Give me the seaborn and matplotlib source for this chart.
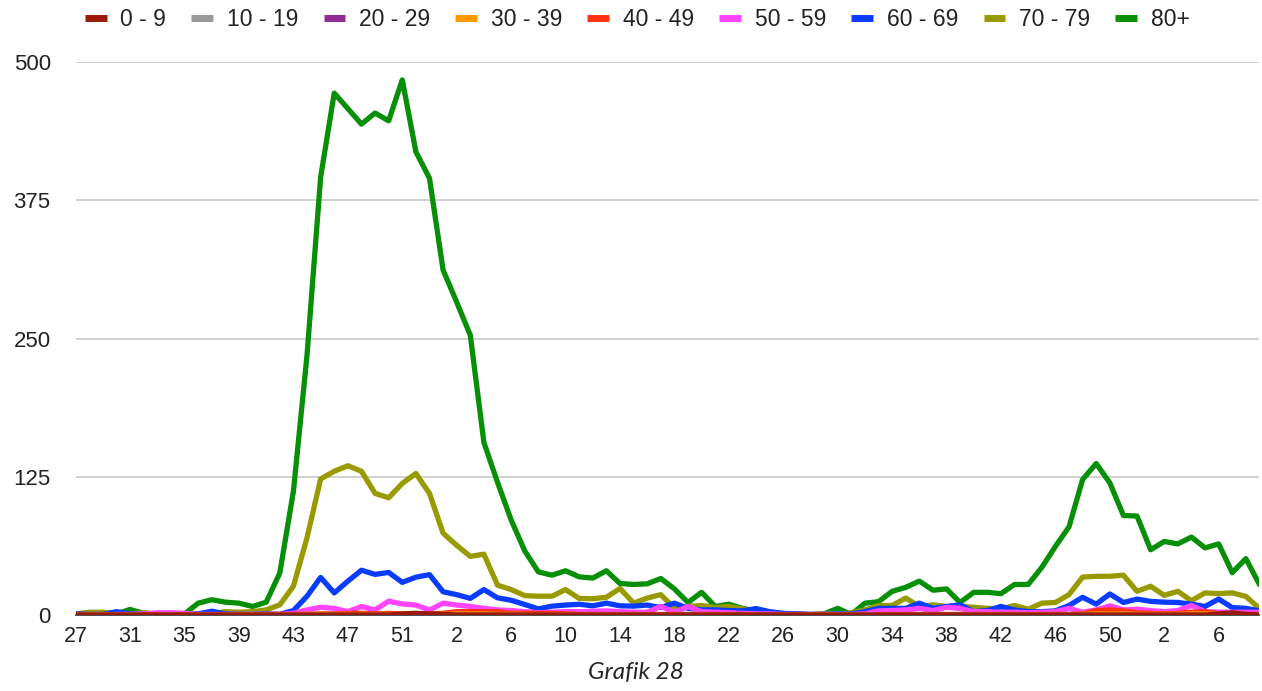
import matplotlib
matplotlib.use("Agg")
import matplotlib.pyplot as plt
import seaborn as sns
import pandas as pd

# weeks: 2020 wk27-53, 2021 wk1-52, 2022 wk1-9
weeks = list(range(27, 54)) + list(range(1, 53)) + list(range(1, 10))

groups = ["0 - 9", "10 - 19", "20 - 29", "30 - 39", "40 - 49",
          "50 - 59", "60 - 69", "70 - 79", "80+"]
colors = ["#9a1b0b", "#999999", "#932a93", "#ff9900", "#ff3311",
          "#ff44ff", "#0a3cff", "#999900", "#078f07"]

v80 = [0, 0.5, 1, 1, 5, 1.5, 1, 0.5, 1, 10.7, 13.8, 11.6, 10.7, 7.7, 11.6, 38, 112,
       235, 396, 472, 458, 444, 454, 447, 484, 419, 395,
       312, 283, 253, 156, 120, 86, 58, 39, 36, 40, 34.5, 33.4, 40, 28.5, 27.6, 28.2,
       33, 23.6, 11.3, 20.5, 7.7, 9.8, 6, 3.7, 2, 1, 0.5, 0.3, 1, 6, 0.5, 10.7, 12,
       21.4, 25, 30.6, 22.4, 23.6, 11.3, 20.5, 20.5, 19.3, 27.6, 27.6, 43, 62, 79.7,
       122.5, 137, 119.5, 90, 89.5,
       59, 66.5, 64.3, 70.5, 60.7, 64.3, 38.3, 51, 27.6]
v70 = [1, 2.5, 2.5, 1, 1, 2, 0.5, 0.5, 0.5, 1, 1, 3, 2.5, 3, 4.6, 9.2, 26, 70, 123,
       130, 135, 130, 110, 106, 119, 128, 110,
       74, 63, 53, 55, 27, 23, 17.5, 17, 17, 23, 15, 14.7, 16, 24, 10.7, 15.3, 18.4,
       6, 7.7, 8.6, 6.7, 7.7, 5.5, 3, 1.5, 1, 1, 0.5, 1, 1, 2, 4.6, 8.6, 8.6, 15.3,
       7.7, 9.2, 7.7, 7.7, 7, 6, 5.5, 8.6, 5.2, 10.7, 11.3, 18.4, 34.3, 35, 35, 36,
       21.4,
       26, 17.8, 21.4, 12.9, 20, 19.3, 20, 16.8, 6]
v60 = [1, 0.5, 0.5, 3, 1, 1, 1, 0.5, 0.5, 1, 3.4, 1, 0.5, 0.5, 1, 0.6, 4, 17, 34,
       20, 30.6, 40.5, 36.7, 38.5, 29.5, 34.2, 36.5,
       21, 18.4, 15, 23, 15.5, 13.3, 9.5, 5.5, 8, 9, 9.7, 8.3, 10.7, 8.3, 8, 9, 6.7,
       10.7, 6, 4.6, 4.6, 4, 3.7, 5.8, 3, 1.5, 1, 0.5, 0.5, 1, 1, 3, 6, 6, 6, 10.7,
       6, 7.7, 9.2, 3, 4, 7.7, 4.6, 3, 3, 3.7, 8.6, 16, 9.8, 19, 11.3, 14.4,
       12.3, 11.6, 11.3, 9.8, 7.7, 14.4, 6.7, 6, 3.7]
v50 = [0, 0, 0, 0.5, 0.5, 1, 2, 2, 1.5, 0.5, 0.5, 0.5, 0.5, 0.5, 0.5, 0.5, 1.5,
       4.6, 7, 6, 3, 7.7, 4.6, 12.5, 10, 9, 4.5,
       10.7, 9, 7.7, 6, 4.6, 4, 3, 2, 2.5, 3, 3, 3.4, 3.7, 3, 2.5, 2.5, 7.7, 2.5,
       7.7, 3, 2.5, 2, 1.5, 1, 1, 0.5, 0.5, 0.5, 0.5, 0.5, 0.5, 1, 3.7, 4, 4.6, 6,
       4, 7, 6, 3, 3, 2.5, 2.5, 2, 2.5, 3, 6, 2.5, 4.6, 8.3, 4.6, 5.2,
       4, 3, 4, 8.6, 3, 2.5, 2.5, 2.5, 2.5]
v40 = [0, 0, 0, 0, 0, 0, 0, 0, 0, 0, 0, 0, 0, 0, 0.5, 0.5, 0.5, 0.5, 1, 1, 1.5,
       1.5, 1, 1.5, 1, 1, 1,
       1.5, 3, 3, 3, 3, 1.5, 1.5, 1.5, 1.5, 1, 0.5, 0.5, 0.5, 0.5, 0.5, 0.5, 0.5,
       0.5, 0.5, 0.5, 0.5, 0.5, 0.5, 0, 0, 0, 0, 0, 0, 0, 0, 0, 0.5, 0.5, 0.5, 0.5,
       0.5, 0.5, 0.5, 0.5, 0.5, 0.5, 0.5, 0.5, 0.5, 0.5, 0.5, 1, 4, 4.6, 3.7, 2,
       1.5, 1, 1.5, 2.5, 3, 1, 0.5, 0.5, 0.5]
v30 = [0, 0, 0, 0, 0, 0, 0, 0, 0, 0, 0, 0, 0, 0, 0, 0, 0, 0.5, 0.5, 0.5, 0.5, 0.5,
       0.5, 0.5, 0.5, 0.5, 0.5,
       0.5, 1, 1, 1, 0.5, 0.5, 0.5, 0, 0, 0, 0, 0, 0, 0, 0, 0, 0, 0, 0, 0, 0, 0, 0,
       0, 0, 0, 0, 0, 0, 0, 0, 0, 0, 0, 0, 0, 0, 0, 0, 0, 0, 0, 0, 0, 0, 0, 0, 0.5,
       1, 1, 1, 0.5, 0.5, 0.5, 0.5, 1, 1, 0.5, 0, 0, 0]
v20 = [0] * 88
v10 = [0] * 88
v0 = [0, 0, 0, 0, 0, 0, 0, 0, 0, 0, 0, 0, 0, 0, 0, 0, 0, 0, 0, 0, 0, 0, 0, 0, 1,
      1.5, 1,
      0.5, 0, 0, 0, 0, 0, 0, 0, 0, 0, 0, 0, 0, 0, 0, 0, 0, 0, 0, 0, 0, 0, 0, 0, 0,
      0, 0, 0, 0, 0, 0, 0, 0, 0, 0, 0, 0, 0, 0, 0, 0, 0, 0, 0, 0, 0, 0, 0, 0, 0, 0,
      0, 0, 0,
      0, 0, 0, 1, 2, 0.5, 0, 0, 0]

series = [v0, v10, v20, v30, v40, v50, v60, v70, v80]

rows = []
for g, vals in zip(groups, series):
    for i, v in enumerate(vals):
        rows.append({"idx": i, "value": v, "group": g})
df = pd.DataFrame(rows)

sns.set_theme(style="white")
plt.rcParams['font.family'] = ['Liberation Sans', 'DejaVu Sans']

fig = plt.figure(figsize=(12.62, 6.91), dpi=100)
ax = fig.add_axes([0.060, 0.110, 0.938, 0.800])

sns.lineplot(data=df, x="idx", y="value", hue="group", hue_order=groups,
             palette=colors, linewidth=3.8, ax=ax, legend=False)

# first series drawn on top, like the original
n = len(ax.lines)
for k, ln in enumerate(ax.lines):
    ln.set_zorder(3 + n - k)

ax.set_xlim(0, len(weeks) - 1)
ax.set_ylim(0, 500)
ax.set_yticks([0, 125, 250, 375, 500])
ax.set_xticks(range(0, len(weeks), 4))
ax.set_xticklabels([str(w) for w in weeks[::4]])
ax.yaxis.grid(True, color="#c8c8c8", linewidth=1.2)
ax.set_axisbelow(True)
for s in ["top", "right", "left"]:
    ax.spines[s].set_visible(False)
ax.spines["bottom"].set_color("#333333")
ax.tick_params(axis="y", labelsize=16, pad=18, length=0, labelcolor="#222222")
ax.tick_params(axis="x", labelsize=15.5, pad=8, length=0, labelcolor="#222222")
ax.set_xlabel("")
ax.set_ylabel("")

handles = [plt.Line2D([], [], color=c, linewidth=5, solid_capstyle="butt")
           for c in colors]
fig.legend(handles, groups, loc="upper center", bbox_to_anchor=(0.505, 1.018),
           ncol=9, frameon=False, fontsize=16.5, handlelength=0.95,
           handletextpad=0.6, columnspacing=1.1, labelcolor="#222222")

fig.text(0.504, 0.027, "Grafik 28", ha="center", va="center", fontsize=17.5,
         style="italic", family=["Lato", "DejaVu Sans"])

fig.savefig("out.png", dpi=100)
